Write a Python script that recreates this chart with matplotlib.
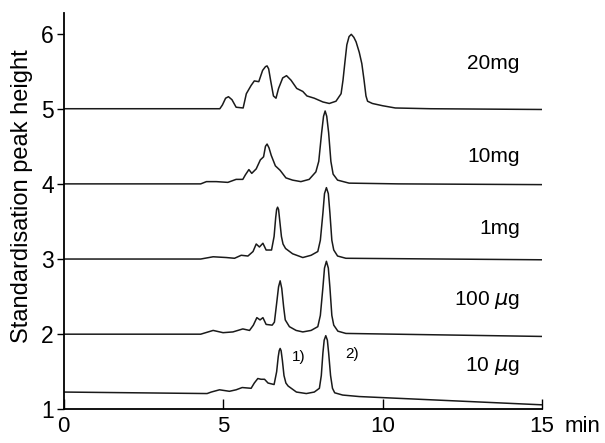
import matplotlib
matplotlib.use("Agg")
import matplotlib.pyplot as plt

plt.rcParams['font.family'] = ['Liberation Sans', 'DejaVu Sans']

# retention time (min) and standardised height for each dose
t_20mg = [0, 4.9, 4.98, 5.08, 5.17, 5.28, 5.41, 5.63, 5.73, 5.88, 5.98, 6.12, 6.24, 6.33, 6.38, 6.43,
          6.49, 6.58, 6.66, 6.74, 6.87, 6.99, 7.13, 7.31, 7.5, 7.63, 7.86, 8.13, 8.33, 8.54, 8.7, 8.76,
          8.82, 8.88, 8.95, 9.02, 9.1, 9.17, 9.27, 9.35, 9.42, 9.48, 9.53, 9.68, 10.0, 10.4, 11.5, 15]
h_20mg = [5.0, 5.0, 5.05, 5.14, 5.16, 5.12, 5.02, 5.01, 5.20, 5.31, 5.37, 5.36, 5.51, 5.56, 5.57, 5.53,
          5.38, 5.17, 5.14, 5.27, 5.41, 5.44, 5.38, 5.27, 5.23, 5.17, 5.14, 5.09, 5.07, 5.10, 5.20, 5.38,
          5.62, 5.85, 5.96, 5.99, 5.95, 5.89, 5.75, 5.6, 5.38, 5.17, 5.1, 5.07, 5.04, 5.01, 5.0, 4.99]

t_10mg = [0, 4.3, 4.48, 4.79, 5.15, 5.41, 5.62, 5.7, 5.81, 5.9, 6.04, 6.17, 6.27, 6.33, 6.38, 6.44,
          6.51, 6.64, 6.79, 6.97, 7.18, 7.44, 7.7, 7.91, 8.0, 8.09, 8.15, 8.2, 8.25, 8.31, 8.38, 8.45,
          8.59, 8.95, 10.5, 15]
h_10mg = [4.0, 4.0, 4.03, 4.03, 4.02, 4.06, 4.06, 4.12, 4.19, 4.14, 4.2, 4.32, 4.36, 4.5, 4.53, 4.48,
          4.38, 4.24, 4.18, 4.08, 4.05, 4.03, 4.06, 4.16, 4.3, 4.68, 4.9, 4.97, 4.9, 4.68, 4.3, 4.13,
          4.05, 4.01, 4.0, 3.99]

t_1mg = [0, 4.3, 4.69, 5.1, 5.36, 5.57, 5.78, 5.94, 6.04, 6.14, 6.25, 6.35, 6.52, 6.6, 6.65, 6.68,
         6.71, 6.74, 6.78, 6.83, 6.88, 6.96, 7.18, 7.5, 7.76, 7.97, 8.05, 8.13, 8.18, 8.24, 8.3, 8.35,
         8.41, 8.47, 8.59, 8.85, 15]
h_1mg = [3.0, 3.0, 3.03, 3.02, 3.01, 3.05, 3.04, 3.1, 3.2, 3.16, 3.21, 3.12, 3.12, 3.3, 3.55, 3.66,
         3.69, 3.66, 3.5, 3.3, 3.2, 3.14, 3.07, 3.02, 3.05, 3.1, 3.25, 3.61, 3.87, 3.95, 3.87, 3.61,
         3.25, 3.12, 3.04, 3.01, 2.99]

t_100ug = [0, 4.3, 4.69, 5.0, 5.31, 5.62, 5.83, 5.95, 6.06, 6.16, 6.25, 6.35, 6.54, 6.61, 6.68, 6.74,
           6.79, 6.84, 6.9, 6.95, 7.08, 7.29, 7.5, 7.76, 7.97, 8.05, 8.13, 8.18, 8.24, 8.3, 8.35, 8.41,
           8.47, 8.6, 8.85, 15]
h_100ug = [2.0, 2.0, 2.05, 2.02, 2.03, 2.07, 2.05, 2.12, 2.22, 2.19, 2.22, 2.13, 2.12, 2.16, 2.41, 2.63,
           2.71, 2.61, 2.36, 2.19, 2.1, 2.05, 2.03, 2.05, 2.1, 2.25, 2.62, 2.88, 2.97, 2.88, 2.62, 2.25,
           2.12, 2.04, 2.01, 1.97]

t_10ug = [0, 4.5, 4.63, 4.89, 5.2, 5.41, 5.6, 5.88, 5.98, 6.09, 6.19, 6.3, 6.41, 6.6, 6.68, 6.73,
          6.76, 6.79, 6.82, 6.86, 6.91, 6.97, 7.04, 7.3, 7.61, 7.86, 8.02, 8.08, 8.13, 8.17, 8.22, 8.27,
          8.31, 8.37, 8.43, 8.5, 8.75, 9.27, 15]
h_10ug = [1.23, 1.21, 1.23, 1.26, 1.24, 1.26, 1.29, 1.28, 1.35, 1.41, 1.4, 1.4, 1.35, 1.33, 1.5, 1.7,
          1.78, 1.81, 1.78, 1.65, 1.45, 1.35, 1.31, 1.23, 1.21, 1.23, 1.28, 1.45, 1.75, 1.92, 1.98, 1.92,
          1.75, 1.45, 1.28, 1.22, 1.19, 1.17, 1.06]

doses = ["20mg", "10mg", "1mg", "100 $\\mu$g", "10 $\\mu$g"]
dose_label_y = [5.6, 4.37, 3.41, 2.45, 1.58]
peak_names = ["1)", "2)"]
peak_label_t = [7.36, 9.05]
peak_label_y = [1.69, 1.73]

fig = plt.figure(figsize=(6.05, 4.43), dpi=100)
ax = fig.add_axes([0.105, 0.076, 0.791, 0.894])

for t, h in [(t_20mg, h_20mg), (t_10mg, h_10mg), (t_1mg, h_1mg), (t_100ug, h_100ug), (t_10ug, h_10ug)]:
    ax.plot(t, h, color="#1a1a1a", lw=1.1)

for name, y in zip(doses, dose_label_y):
    ax.text(14.3, y, name, ha="right", va="center", fontsize=15)
for name, t, y in zip(peak_names, peak_label_t, peak_label_y):
    ax.text(t, y, name, ha="center", va="center", fontsize=11)

ax.set_xlim(0, 15)
ax.set_ylim(1, 6.27)
ax.set_xticks([0, 5, 10, 15])
ax.set_xticklabels(["0", "5", "10", "15"])
ax.set_yticks([1, 2, 3, 4, 5, 6])
ax.tick_params(axis="x", direction="in", length=7, width=1, pad=5, labelsize=16)
ax.tick_params(axis="y", direction="out", length=5, width=1, pad=2, labelsize=16.5)
ax.annotate("min", xy=(15.7, 0), xycoords=("data", "axes fraction"), xytext=(0, -5),
            textcoords="offset points", ha="left", va="top", fontsize=16, annotation_clip=False)
ax.set_ylabel("Standardisation peak height", fontsize=17)
ax.yaxis.set_label_coords(-0.063, 0.539)
ax.spines["top"].set_visible(False)
ax.spines["right"].set_visible(False)
for s in ["left", "bottom"]:
    ax.spines[s].set_linewidth(1.3)

plt.savefig("out.png", dpi=100)
